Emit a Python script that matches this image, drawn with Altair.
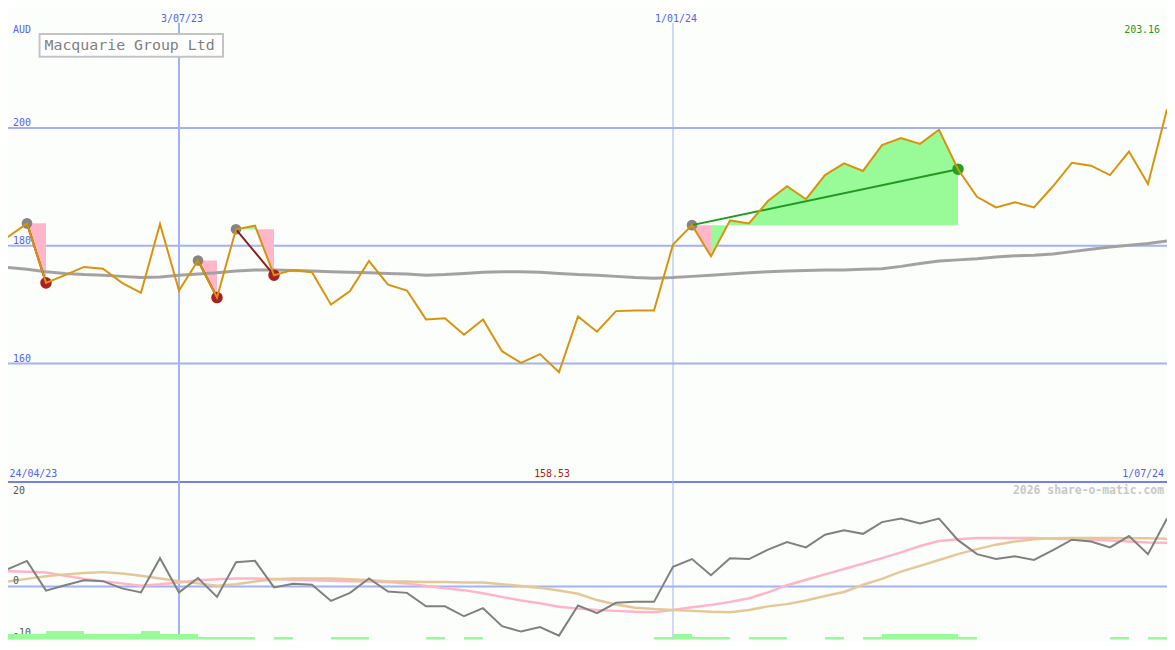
import altair as alt
import pandas as pd

# ---------------- data (weekly, index 1 = w/c 1/05/23, index 62 = 1/07/24) ----------------
price = [181.5, 183.8, 173.7, 175.0, 176.4, 176.1, 173.7, 172.0, 183.7, 172.4,
         177.5, 171.2, 182.8, 183.4, 175.0, 175.9, 175.5, 170.0, 172.3, 177.4,
         173.4, 172.4, 167.5, 167.7, 164.9, 167.5, 162.1, 160.1, 161.6, 158.53,
         168.0, 165.4, 168.9, 169.0, 169.0, 180.2, 183.5, 178.2, 184.3, 183.8,
         187.6, 190.1, 187.9, 192.0, 194.0, 192.7, 197.1, 198.3, 197.3, 199.7,
         193.0, 188.3, 186.5, 187.4, 186.5, 190.1, 194.1, 193.6, 192.0, 196.0,
         190.5, 203.16]
moving_avg = [176.3, 176.0, 175.6, 175.3, 175.1, 175.0, 174.8, 174.6, 174.7, 175.0,
              175.2, 175.4, 175.7, 175.9, 175.9, 175.8, 175.7, 175.6, 175.5, 175.4,
              175.3, 175.2, 175.0, 175.1, 175.3, 175.5, 175.6, 175.6, 175.5, 175.3,
              175.1, 175.0, 174.8, 174.6, 174.5, 174.6, 174.8, 175.0, 175.2, 175.4,
              175.6, 175.7, 175.8, 175.9, 175.9, 176.0, 176.1, 176.5, 177.0, 177.4,
              177.6, 177.8, 178.1, 178.3, 178.4, 178.6, 179.0, 179.4, 179.8, 180.1,
              180.4, 180.8]
osc = [3.9, 5.7, -0.9, 0.3, 1.4, 1.2, -0.4, -1.3, 6.3, -1.3,
       1.9, -2.3, 5.4, 5.7, -0.2, 0.6, 0.4, -3.2, -1.4, 1.8,
       -1.1, -1.4, -4.4, -4.4, -6.6, -4.8, -8.8, -10.0, -9.0, -10.9,
       -4.2, -5.9, -3.6, -3.4, -3.4, 4.4, 6.1, 2.5, 6.3, 6.1,
       8.2, 9.9, 8.7, 11.5, 12.5, 11.7, 14.3, 15.1, 14.0, 15.1,
       10.3, 7.2, 6.1, 6.7, 5.9, 8.1, 10.4, 10.0, 8.7, 11.2,
       7.2, 15.1]
osc_fast = [3.4, 3.3, 3.1, 2.4, 1.7, 1.2, 0.7, 0.2, 0.5, 0.9,
            1.4, 1.6, 1.8, 1.8, 1.7, 1.5, 1.4, 1.3, 1.2, 1.1,
            1.0, 0.7, 0.1, -0.4, -0.8, -1.5, -2.3, -3.1, -3.7, -4.5,
            -4.9, -5.2, -5.4, -5.6, -5.7, -5.2, -4.6, -4.1, -3.4, -2.6,
            -1.3, 0.3, 1.5, 2.7, 3.9, 5.1, 6.3, 7.6, 9.0, 10.1,
            10.5, 10.8, 10.8, 10.8, 10.8, 10.6, 10.5, 10.4, 10.2, 10.0,
            9.8, 9.7]
osc_slow = [1.1, 1.7, 2.3, 2.7, 3.0, 3.2, 2.9, 2.4, 1.8, 1.2,
            0.7, 0.2, 0.5, 1.1, 1.6, 1.8, 1.8, 1.8, 1.6, 1.4,
            1.2, 1.1, 1.0, 1.0, 0.9, 0.9, 0.5, 0.1, -0.3, -0.9,
            -1.6, -3.0, -4.0, -4.7, -5.0, -5.2, -5.4, -5.6, -5.7, -5.2,
            -4.4, -3.9, -3.1, -2.1, -1.2, 0.4, 1.7, 3.3, 4.6, 5.9,
            7.2, 8.3, 9.3, 10.0, 10.5, 10.7, 10.8, 10.8, 10.8, 10.7,
            10.7, 10.6]
strength = [2, 2, 3, 3, 2, 2, 2, 3, 2, 2,
            1, 1, 1, 0, 1, 0, 0, 1, 1, 0,
            0, 0, 1, 0, 1, 0, 0, 0, 0, 0,
            0, 0, 0, 0, 1, 2, 1, 1, 0, 1,
            1, 0, 0, 1, 0, 1, 2, 2, 2, 2,
            1, 0, 0, 0, 0, 0, 0, 0, 1, 0, 1]
entries = [2, 11, 13, 37]
exits = [3, 12, 15, 51]
price_ticks = [200, 180, 160]
osc_ticks = [20, 0]
osc_low_tick = [-10]
date_idx = [10, 36]
date_labels = ["3/07/23", "1/01/24"]
start_label, end_label = "24/04/23", "1/07/24"
title = "Macquarie Group Ltd"
watermark = "2026 share-o-matic.com"

# ---------------- layout / style ----------------
W, H = 1167, 634
TOP_H = 475
SX, SY = W / 1175, H / 650
FONT = "DejaVu Sans Mono"
BLUE = "#5461ee"
GRID = "#a4b2f4"
SEP = "#7282ea"
BG = "#fcfefb"
PINK = "#ffb6c8"
GREEN_FILL = "#98fb98"

n = len(price)
idx = list(range(1, n + 1))
df = pd.DataFrame({"i": idx, "price": price, "ma": moving_avg, "osc": osc,
                   "fast": osc_fast, "slow": osc_slow})

xs = alt.Scale(domain=[1, n], nice=False, zero=False)
X = alt.X("i:Q", scale=xs, axis=None)
ys_top = alt.Scale(domain=[139.9, 220], range=[TOP_H, 0], nice=False, zero=False)
ys_bot = alt.Scale(domain=[-11.83, 23.23], range=[H, TOP_H], nice=False, zero=False)
ys_bar = alt.Scale(domain=[0, 163 / 3], range=[H, TOP_H], nice=False, zero=False)

def ytop(f):
    return alt.Y(f, scale=ys_top, axis=None)

def ybot(f):
    return alt.Y(f, scale=ys_bot, axis=None)

# trade fills (per segment) and trade lines / markers
fill_rows, tline_rows, entry_rows, exit_rows = [], [], [], []
for k, (e, x) in enumerate(zip(entries, exits)):
    entry = price[e - 1]
    for j in range(e, x):
        col = GREEN_FILL if price[j] > entry else PINK
        seg = f"{k}-{j}"
        fill_rows.append({"i": j, "p": price[j - 1], "entry": entry, "seg": seg, "col": col})
        fill_rows.append({"i": j + 1, "p": price[j], "entry": entry, "seg": seg, "col": col})
    win = price[x - 1] > entry
    lc = "#229a22" if win else "#8e1c1c"
    tline_rows.append({"i": e, "p": entry, "t": k, "col": lc})
    tline_rows.append({"i": x, "p": price[x - 1], "t": k, "col": lc})
    entry_rows.append({"i": e, "p": entry})
    exit_rows.append({"i": x, "p": price[x - 1], "col": "#24a024" if win else "#aa2020"})
fill_df = pd.DataFrame(fill_rows)
tline_df = pd.DataFrame(tline_rows)
entry_df = pd.DataFrame(entry_rows)
exit_df = pd.DataFrame(exit_rows)

bar_df = pd.DataFrame({"i": idx[:-1], "i2": idx[1:], "lvl": strength, "zero": 0})
bar_df = bar_df[bar_df["lvl"] > 0]

one = pd.DataFrame({"a": [0]})

# ---------------- top panel ----------------
grid = alt.Chart(pd.DataFrame({"v": price_ticks})).mark_rule(
    color=GRID, strokeWidth=2, clip=True).encode(y=ytop("v:Q"))
sep = alt.Chart(pd.DataFrame({"v": [139.9]})).mark_rule(
    color=SEP, strokeWidth=2, clip=True).encode(y=ytop("v:Q"))
vlines = alt.Chart(pd.DataFrame({"i": date_idx, "w": [2, 1]})).mark_rule(
    color=GRID, clip=True).encode(
    x=X, y=alt.value(13 * SY), y2=alt.value(H),
    strokeWidth=alt.StrokeWidth("w:Q", scale=None))
fills = alt.Chart(fill_df).mark_area(clip=True, opacity=1).encode(
    x=X, y=ytop("p:Q"), y2="entry:Q",
    color=alt.Color("col:N", scale=None), detail="seg:N")
ma_line = alt.Chart(df).mark_line(color="#a2a2a2", strokeWidth=3, clip=True).encode(
    x=X, y=ytop("ma:Q"))
entry_pts = alt.Chart(entry_df).mark_circle(color="#858585", opacity=1, size=115, clip=True).encode(
    x=X, y=ytop("p:Q"))
exit_pts = alt.Chart(exit_df).mark_circle(opacity=1, size=135, clip=True).encode(
    x=X, y=ytop("p:Q"), color=alt.Color("col:N", scale=None))
tlines = alt.Chart(tline_df).mark_line(strokeWidth=2, clip=True).encode(
    x=X, y=ytop("p:Q"), color=alt.Color("col:N", scale=None), detail="t:N")
price_line = alt.Chart(df).mark_line(color="#d8930c", strokeWidth=2, clip=True).encode(
    x=X, y=ytop("price:Q"))

tick_txt = alt.Chart(pd.DataFrame({"v": price_ticks, "t": [str(v) for v in price_ticks]})).mark_text(
    align="left", baseline="alphabetic", dy=-2, font=FONT, fontSize=10, color=BLUE, clip=True).encode(
    x=alt.value(5), y=ytop("v:Q"), text="t:N")
date_txt = alt.Chart(pd.DataFrame({"i": date_idx, "t": date_labels})).mark_text(
    align="center", baseline="middle", dx=3, font=FONT, fontSize=10, color=BLUE, clip=True).encode(
    x=X, y=alt.value(9 * SY), text="t:N")
aud_txt = alt.Chart(one).mark_text(text="AUD", align="left", baseline="middle",
                                   font=FONT, fontSize=10, color=BLUE).encode(
    x=alt.value(5), y=alt.value(21 * SY))
max_txt = alt.Chart(pd.DataFrame({"i": [n], "t": [f"{max(price):.2f}"]})).mark_text(
    align="right", baseline="middle", dx=-7, font=FONT, fontSize=10, color="#229a22").encode(
    x=X, y=alt.value(21 * SY), text="t:N")
start_txt = alt.Chart(one).mark_text(text=start_label, align="left", baseline="middle",
                                     font=FONT, fontSize=10, color=BLUE).encode(
    x=alt.value(1.5), y=alt.value(479 * SY))
end_txt = alt.Chart(one).mark_text(text=end_label, align="right", baseline="middle",
                                   font=FONT, fontSize=10, color=BLUE).encode(
    x=alt.value(1172 * SX), y=alt.value(479 * SY))
imin = price.index(min(price)) + 1
min_txt = alt.Chart(pd.DataFrame({"i": [imin], "t": [f"{min(price):.2f}"]})).mark_text(
    align="center", baseline="middle", dx=-7, font=FONT, fontSize=10, color="#a81c1c").encode(
    x=X, y=alt.value(479 * SY), text="t:N")
title_box = alt.Chart(one).mark_rect(fill="#ffffff", stroke="#c4c4c4", strokeWidth=2).encode(
    x=alt.value(32 * SX), x2=alt.value(218 * SX), y=alt.value(24.5 * SY), y2=alt.value(48 * SY))
title_txt = alt.Chart(one).mark_text(text=title, align="left", baseline="middle",
                                     font=FONT, fontSize=15, color="#808080").encode(
    x=alt.value(37 * SX), y=alt.value(36.5 * SY))

top = alt.layer(grid, sep, vlines, fills, ma_line, entry_pts, exit_pts, tlines, price_line,
                tick_txt, date_txt, aud_txt, max_txt, start_txt, end_txt, min_txt,
                title_box, title_txt)

# ---------------- bottom panel ----------------
zero_line = alt.Chart(pd.DataFrame({"v": [0]})).mark_rule(
    color=GRID, strokeWidth=2, clip=True).encode(y=ybot("v:Q"))
fast_line = alt.Chart(df).mark_line(color="#ffb4c8", strokeWidth=2.5, clip=True).encode(
    x=X, y=ybot("fast:Q"))
slow_line = alt.Chart(df).mark_line(color="#e4c898", strokeWidth=2.5, clip=True).encode(
    x=X, y=ybot("slow:Q"))
osc_line = alt.Chart(df).mark_line(color="#808080", strokeWidth=2, clip=True).encode(
    x=X, y=ybot("osc:Q"))
osc_txt = alt.Chart(pd.DataFrame({"v": osc_ticks, "t": [str(v) for v in osc_ticks]})).mark_text(
    align="left", baseline="alphabetic", dy=-2.5, font=FONT, fontSize=10, color="#555555", clip=True).encode(
    x=alt.value(5), y=ybot("v:Q"), text="t:N")
osc_low_txt = alt.Chart(pd.DataFrame({"v": osc_low_tick, "t": [str(v) for v in osc_low_tick]})).mark_text(
    align="left", baseline="alphabetic", dy=4, font=FONT, fontSize=10, color="#555555", clip=True).encode(
    x=alt.value(5), y=ybot("v:Q"), text="t:N")
wm_txt = alt.Chart(one).mark_text(text=watermark, align="right", baseline="middle",
                                  font=FONT, fontSize=11.5, fontWeight="bold", color="#c8c8c8").encode(
    x=alt.value(1172 * SX), y=alt.value(496 * SY))

bottom = alt.layer(zero_line, fast_line, slow_line, osc_line, osc_txt, osc_low_txt, wm_txt)

bars = alt.Chart(bar_df).mark_rect(color="#98fa98", clip=True).encode(
    x=X, x2="i2:Q", y=alt.Y("lvl:Q", scale=ys_bar, axis=None), y2="zero:Q")

chart = alt.layer(top, bottom, bars).resolve_scale(y="independent").properties(
    width=W, height=H, padding=0, background=BG
).configure_view(stroke=None)

chart.save("out.html", embed_options={"renderer": "svg", "actions": False})
